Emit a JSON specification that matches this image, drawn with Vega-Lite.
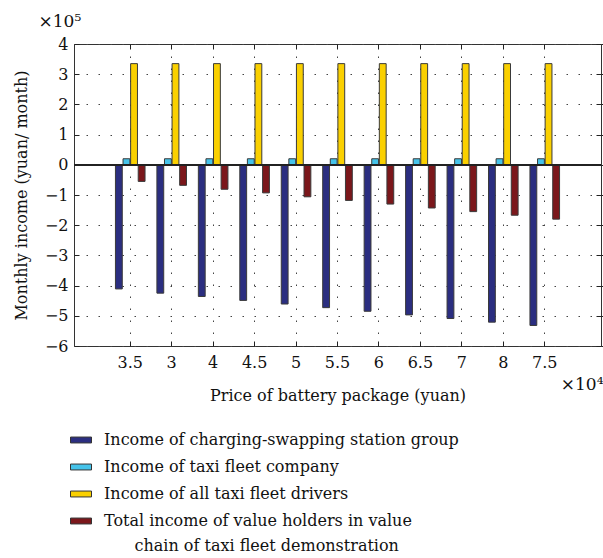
{
  "$schema": "https://vega.github.io/schema/vega-lite/v6.json",
  "autosize": "none",
  "width": 527,
  "height": 302,
  "padding": {"left": 74, "top": 44, "right": 2, "bottom": 212},
  "background": "white",
  "config": {
    "font": "DejaVu Serif",
    "view": {"stroke": "#333", "strokeWidth": 1},
    "axis": {
      "labelFont": "DejaVu Serif", "labelFontSize": 16, "labelColor": "#111",
      "titleFont": "DejaVu Serif", "titleFontSize": 16, "titleFontWeight": "normal", "titleColor": "#111",
      "domain": false, "tickColor": "#222", "gridColor": "#444", "gridDash": [1.5, 10.5], "gridWidth": 1
    }
  },
  "data": {"values": [
    {"price": "3.5", "series": "Income of charging-swapping station group", "value": -4.11},
    {"price": "3.5", "series": "Income of taxi fleet company", "value": 0.2},
    {"price": "3.5", "series": "Income of all taxi fleet drivers", "value": 3.35},
    {"price": "3.5", "series": "Total income of value holders in value chain of taxi fleet demonstration", "value": -0.55},
    {"price": "3", "series": "Income of charging-swapping station group", "value": -4.25},
    {"price": "3", "series": "Income of taxi fleet company", "value": 0.2},
    {"price": "3", "series": "Income of all taxi fleet drivers", "value": 3.35},
    {"price": "3", "series": "Total income of value holders in value chain of taxi fleet demonstration", "value": -0.68},
    {"price": "4", "series": "Income of charging-swapping station group", "value": -4.36},
    {"price": "4", "series": "Income of taxi fleet company", "value": 0.2},
    {"price": "4", "series": "Income of all taxi fleet drivers", "value": 3.35},
    {"price": "4", "series": "Total income of value holders in value chain of taxi fleet demonstration", "value": -0.81},
    {"price": "4.5", "series": "Income of charging-swapping station group", "value": -4.49},
    {"price": "4.5", "series": "Income of taxi fleet company", "value": 0.2},
    {"price": "4.5", "series": "Income of all taxi fleet drivers", "value": 3.35},
    {"price": "4.5", "series": "Total income of value holders in value chain of taxi fleet demonstration", "value": -0.93},
    {"price": "5", "series": "Income of charging-swapping station group", "value": -4.61},
    {"price": "5", "series": "Income of taxi fleet company", "value": 0.2},
    {"price": "5", "series": "Income of all taxi fleet drivers", "value": 3.35},
    {"price": "5", "series": "Total income of value holders in value chain of taxi fleet demonstration", "value": -1.06},
    {"price": "5.5", "series": "Income of charging-swapping station group", "value": -4.73},
    {"price": "5.5", "series": "Income of taxi fleet company", "value": 0.2},
    {"price": "5.5", "series": "Income of all taxi fleet drivers", "value": 3.35},
    {"price": "5.5", "series": "Total income of value holders in value chain of taxi fleet demonstration", "value": -1.18},
    {"price": "6", "series": "Income of charging-swapping station group", "value": -4.85},
    {"price": "6", "series": "Income of taxi fleet company", "value": 0.2},
    {"price": "6", "series": "Income of all taxi fleet drivers", "value": 3.35},
    {"price": "6", "series": "Total income of value holders in value chain of taxi fleet demonstration", "value": -1.30},
    {"price": "6.5", "series": "Income of charging-swapping station group", "value": -4.97},
    {"price": "6.5", "series": "Income of taxi fleet company", "value": 0.2},
    {"price": "6.5", "series": "Income of all taxi fleet drivers", "value": 3.35},
    {"price": "6.5", "series": "Total income of value holders in value chain of taxi fleet demonstration", "value": -1.43},
    {"price": "7", "series": "Income of charging-swapping station group", "value": -5.09},
    {"price": "7", "series": "Income of taxi fleet company", "value": 0.2},
    {"price": "7", "series": "Income of all taxi fleet drivers", "value": 3.35},
    {"price": "7", "series": "Total income of value holders in value chain of taxi fleet demonstration", "value": -1.55},
    {"price": "8", "series": "Income of charging-swapping station group", "value": -5.21},
    {"price": "8", "series": "Income of taxi fleet company", "value": 0.2},
    {"price": "8", "series": "Income of all taxi fleet drivers", "value": 3.35},
    {"price": "8", "series": "Total income of value holders in value chain of taxi fleet demonstration", "value": -1.67},
    {"price": "7.5", "series": "Income of charging-swapping station group", "value": -5.32},
    {"price": "7.5", "series": "Income of taxi fleet company", "value": 0.2},
    {"price": "7.5", "series": "Income of all taxi fleet drivers", "value": 3.35},
    {"price": "7.5", "series": "Total income of value holders in value chain of taxi fleet demonstration", "value": -1.80}
  ]},
  "layer": [
    {
      "mark": {"type": "bar", "stroke": "#3a3a3a", "strokeWidth": 1},
      "encoding": {
        "x": {"field": "price", "type": "nominal", "sort": null,
          "scale": {"paddingInner": 0.286, "paddingOuter": 1.643},
          "axis": {"title": "Price of battery package (yuan)", "labelAngle": 0, "grid": true, "bandPosition": 0.5, "ticks": true, "tickSize": -5, "labelPadding": 13, "titlePadding": 17}},
        "xOffset": {"field": "series", "type": "nominal",
          "scale": {"domain": ["Income of charging-swapping station group", "Income of taxi fleet company", "Income of all taxi fleet drivers", "Total income of value holders in value chain of taxi fleet demonstration"], "paddingInner": 0.1}},
        "y": {"field": "value", "type": "quantitative",
          "scale": {"domain": [-6, 4], "nice": false},
          "axis": {"title": "Monthly income (yuan/ month)", "values": [-6, -5, -4, -3, -2, -1, 0, 1, 2, 3, 4], "grid": true, "ticks": true, "tickSize": -5, "labelPadding": 11, "titlePadding": 15}},
        "color": {"field": "series", "type": "nominal",
          "scale": {"domain": ["Income of charging-swapping station group", "Income of taxi fleet company", "Income of all taxi fleet drivers", "Total income of value holders in value chain of taxi fleet demonstration"],
                    "range": ["#2b2e80", "#45c3ea", "#fad000", "#7b171b"]},
          "legend": {"orient": "none", "legendX": -4, "legendY": 385, "direction": "vertical", "title": null,
            "symbolType": "M-1,-0.28H1V0.28H-1Z", "symbolSize": 441, "symbolStrokeColor": "#333", "symbolStrokeWidth": 1,
            "labelFont": "DejaVu Serif", "labelFontSize": 16, "labelColor": "#111", "rowPadding": 8, "labelOffset": 12, "labelLimit": 0,
            "encode": {"labels": {"update": {"lineHeight": {"value": 25}}}},
            "labelExpr": "datum.label == 'Total income of value holders in value chain of taxi fleet demonstration' ? ['Total income of value holders in value', '\u200b\u00a0\u00a0\u00a0\u00a0\u00a0\u00a0chain of taxi fleet demonstration'] : datum.label"}}
      }
    },
    {
      "mark": {"type": "rule", "color": "#222", "strokeWidth": 1.2},
      "encoding": {"y": {"datum": 0}}
    },
    {
      "mark": {"type": "bar", "opacity": 0},
      "encoding": {
        "x": {"field": "price", "type": "nominal", "sort": null,
          "scale": {"paddingInner": 0.286, "paddingOuter": 1.643},
          "axis": {"orient": "top", "labels": false, "grid": false, "bandPosition": 0.5, "ticks": true, "tickSize": -5,
                   "title": "×10⁵", "titleFontSize": 17, "titleX": -36, "titleY": -18, "titleAlign": "left", "titleBaseline": "alphabetic", "titleAngle": 0}},
        "y": {"field": "value", "type": "quantitative",
          "scale": {"domain": [-6, 4], "nice": false},
          "axis": {"orient": "right", "labels": false, "grid": false, "ticks": true, "tickSize": -5, "values": [-6, -5, -4, -3, -2, -1, 0, 1, 2, 3, 4],
                   "title": "×10⁴", "titleFontSize": 17, "titleX": 2, "titleY": 345, "titleAlign": "right", "titleBaseline": "alphabetic", "titleAngle": 0}}
      }
    }
  ],
  "resolve": {"axis": {"x": "independent", "y": "independent"}}
}
